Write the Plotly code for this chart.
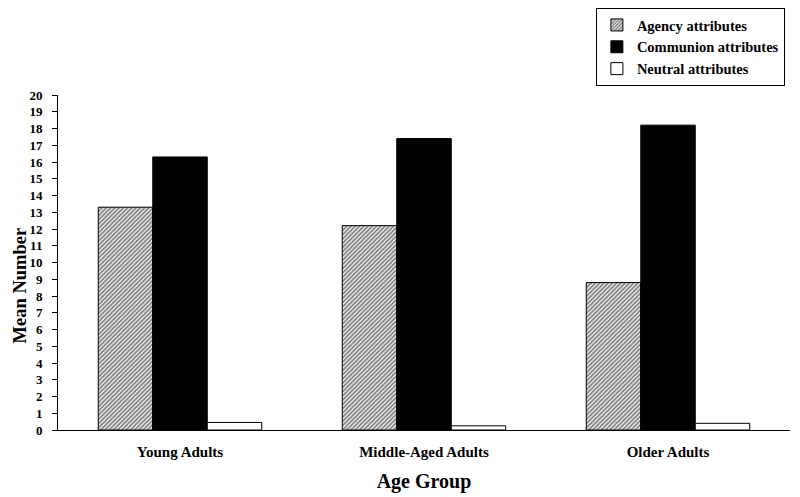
import plotly.graph_objects as go

groups = ["Young Adults", "Middle-Aged Adults", "Older Adults"]
agency = [13.3, 12.2, 8.8]
communion = [16.3, 17.4, 18.2]
neutral = [0.45, 0.25, 0.4]
y_ticks = list(range(0, 21))

serif = "Liberation Serif"

fig = go.Figure()
fig.add_trace(go.Bar(
    x=groups, y=agency, name="Agency attributes",
    marker=dict(color="white", line=dict(color="black", width=1),
                pattern=dict(shape="/", fgcolor="black", bgcolor="white",
                             size=3, solidity=0.6)),
))
fig.add_trace(go.Bar(
    x=groups, y=communion, name="Communion attributes",
    marker=dict(color="black", line=dict(color="black", width=1)),
))
fig.add_trace(go.Bar(
    x=groups, y=neutral, name="Neutral attributes",
    marker=dict(color="white", line=dict(color="black", width=1)),
))

# y title placed by hand so it sits left of the tick labels like the original
fig.add_annotation(
    text="Mean Number", textangle=-90, showarrow=False,
    xref="paper", yref="paper", x=-0.0526, y=0.433,
    xanchor="center", yanchor="middle",
    font=dict(family=serif, size=18.5, weight="bold"),
)

fig.update_layout(
    width=800, height=497,
    barmode="group", bargap=0.33, bargroupgap=0,
    plot_bgcolor="white", paper_bgcolor="white",
    font=dict(family=serif, color="black", size=14),
    margin=dict(l=50, r=18, t=87, b=75, autoexpand=False),
    legend=dict(
        x=0.993, y=1.0, xref="paper", yref="container",
        xanchor="right", yanchor="top",
        bordercolor="black", borderwidth=1,
        font=dict(family=serif, size=14.5, weight="bold"),
        itemwidth=30, tracegroupgap=0,
    ),
    xaxis=dict(
        range=[-0.5, 2.5], showline=True, linecolor="black", linewidth=1,
        ticks="outside", ticklen=8, tickcolor="white",
        tickfont=dict(family=serif, size=15, weight="bold"),
        title=dict(text="Age Group", font=dict(family=serif, size=20, weight="bold"),
                   standoff=14),
    ),
    yaxis=dict(
        range=[0, 20], tickvals=y_ticks, showgrid=False, zeroline=False,
        showline=True, linecolor="black", linewidth=1,
        ticks="outside", ticklen=5, tickcolor="black", ticklabelstandoff=7,
        tickfont=dict(family=serif, size=13, weight="bold"),
    ),
)

fig.write_html("out.html")
